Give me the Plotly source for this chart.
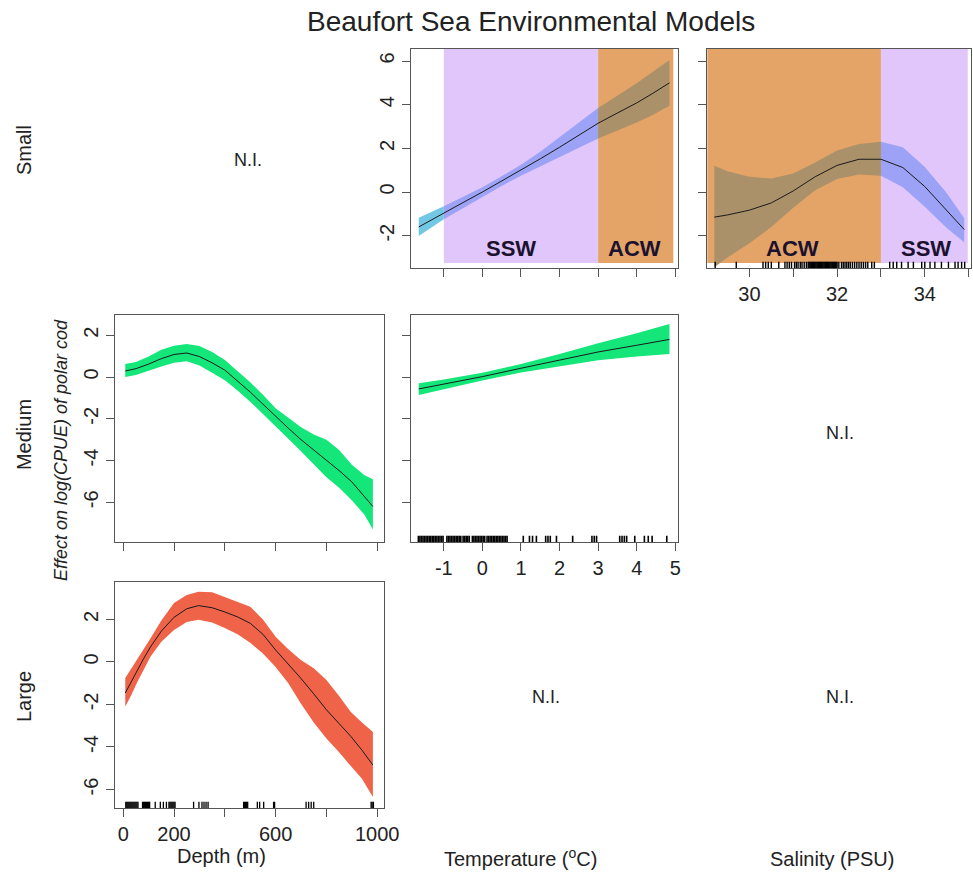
import plotly.graph_objects as go

W, H = 973, 873          # target picture size
S = 0.982                # horizontal scale observed between page and picture
FW, FH = 990, 873        # figure size in page pixels

# ---------------- data ----------------
# Small - Temperature
temp_small_x = [-1.65, -1.3, -1.0, -0.5, 0.0, 0.5, 1.0, 1.5, 2.0, 2.5, 3.0, 3.5, 4.0, 4.4, 4.85]
temp_small_fit = [-1.6, -1.25, -0.95, -0.48, 0.0, 0.5, 1.0, 1.52, 2.05, 2.6, 3.15, 3.62, 4.08, 4.5, 5.0]
temp_small_hi = [-1.18, -0.89, -0.65, -0.23, 0.22, 0.72, 1.25, 1.84, 2.5, 3.17, 3.85, 4.42, 4.98, 5.48, 6.05]
temp_small_lo = [-2.02, -1.61, -1.25, -0.73, -0.22, 0.28, 0.75, 1.2, 1.6, 2.03, 2.45, 2.82, 3.18, 3.52, 3.95]

# Small - Salinity
sal_small_x = [29.2, 29.5, 30.0, 30.5, 31.0, 31.5, 32.0, 32.5, 33.0, 33.5, 34.0, 34.5, 34.9]
sal_small_fit = [-1.15, -1.05, -0.83, -0.5, 0.05, 0.7, 1.22, 1.5, 1.5, 1.12, 0.25, -0.83, -1.72]
sal_small_hi = [1.2, 0.95, 0.7, 0.62, 0.85, 1.35, 1.9, 2.2, 2.3, 2.05, 1.15, -0.05, -1.2]
sal_small_lo = [-3.45, -3.0, -2.35, -1.6, -0.72, 0.08, 0.6, 0.8, 0.75, 0.22, -0.68, -1.65, -2.3]

# Medium - Depth
depth_med_x = [8, 50, 100, 150, 200, 250, 300, 350, 400, 450, 500, 550, 600, 650, 700, 750, 800, 850, 900, 950, 983]
depth_med_fit = [0.29, 0.4, 0.62, 0.88, 1.08, 1.15, 0.98, 0.68, 0.33, -0.18, -0.72, -1.3, -1.9, -2.45, -3.0, -3.5, -3.97, -4.48, -5.02, -5.7, -6.2]
depth_med_hi = [0.62, 0.72, 0.98, 1.3, 1.5, 1.58, 1.48, 1.2, 0.82, 0.3, -0.25, -0.85, -1.5, -1.95, -2.4, -2.75, -3.0, -3.5, -4.2, -4.7, -4.9]
depth_med_lo = [0.0, 0.1, 0.3, 0.5, 0.68, 0.75, 0.55, 0.2, -0.15, -0.65, -1.18, -1.8, -2.35, -2.95, -3.55, -4.15, -4.8, -5.3, -5.9, -6.6, -7.3]

# Medium - Temperature
temp_med_x = [-1.65, -1.0, 0.0, 1.0, 2.0, 3.0, 4.0, 4.85]
temp_med_fit = [-0.57, -0.35, 0.02, 0.42, 0.8, 1.2, 1.52, 1.8]
temp_med_hi = [-0.3, -0.12, 0.2, 0.62, 1.1, 1.62, 2.1, 2.54]
temp_med_lo = [-0.86, -0.6, -0.17, 0.22, 0.5, 0.8, 0.98, 1.1]

# Large - Depth
depth_lrg_x = [8, 30, 55, 80, 107, 150, 200, 250, 296, 350, 400, 450, 500, 550, 600, 650, 698, 750, 800, 850, 896, 940, 983]
depth_lrg_fit = [-1.46, -0.95, -0.38, 0.15, 0.7, 1.45, 2.1, 2.5, 2.65, 2.55, 2.35, 2.12, 1.82, 1.3, 0.56, -0.1, -0.75, -1.5, -2.25, -2.9, -3.5, -4.15, -4.85]
depth_lrg_hi = [-0.75, -0.35, 0.15, 0.62, 1.1, 1.95, 2.77, 3.15, 3.3, 3.28, 3.06, 2.85, 2.6, 2.0, 1.18, 0.6, 0.1, -0.3, -0.85, -1.6, -2.35, -2.85, -3.3]
depth_lrg_lo = [-2.1, -1.6, -0.95, -0.35, 0.24, 0.95, 1.5, 1.88, 1.98, 1.85, 1.6, 1.3, 0.9, 0.4, -0.24, -1.0, -1.93, -2.85, -3.6, -4.25, -4.9, -5.5, -6.35]

# rugs (observed sample positions)
depth_rug = [10, 14, 18, 22, 26, 30, 34, 38, 42, 46, 50, 54, 58, 76, 80, 84, 88, 92, 96, 100, 104,
             126, 146, 158, 170, 180, 184, 188, 192, 196, 200, 204, 277, 298, 310, 318, 326, 334,
             474, 478, 482, 486, 490, 528, 537, 553, 592, 596, 720, 730, 740, 750, 976, 980, 985]
temp_rug = [-1.66, -1.62, -1.58, -1.54, -1.50, -1.46, -1.42, -1.38, -1.34, -1.30, -1.26, -1.22, -1.18,
            -1.14, -1.10, -1.06, -1.02, -0.92, -0.88, -0.84, -0.80, -0.76, -0.72, -0.68, -0.64, -0.60,
            -0.56, -0.50, -0.46, -0.42, -0.38, -0.34, -0.26, -0.22, -0.18, -0.14, -0.10, -0.06, -0.02,
            0.02, 0.06, 0.12, 0.16, 0.20, 0.24, 0.28, 0.32, 0.36, 0.40, 0.44, 0.48, 0.52, 0.56, 0.60,
            0.64, 1.06, 1.22, 1.30, 1.40, 1.64, 1.70, 1.76, 1.92, 2.34, 2.84, 2.90, 2.96, 3.56, 3.62,
            3.68, 3.74, 3.95, 4.20, 4.30, 4.40, 4.78]
sal_rug = [29.22, 29.7, 30.31, 30.37, 30.43, 30.5, 30.67, 30.81, 30.86, 30.91, 30.96, 31.03, 31.07,
           31.11, 31.16, 31.2, 31.25, 31.3, 31.34, 31.36, 31.38, 31.4, 31.42, 31.44, 31.46, 31.48,
           31.5, 31.52, 31.54, 31.56, 31.58, 31.6, 31.62, 31.64, 31.66, 31.68, 31.7, 31.72, 31.74,
           31.76, 31.78, 31.8, 31.82, 31.84, 31.86, 31.88, 31.9, 31.92, 31.94, 31.96, 31.98, 32.0,
           32.04, 32.1, 32.14, 32.18, 32.22, 32.26, 32.3, 32.35, 32.4, 32.45, 32.5,
           32.55, 32.6, 32.65, 32.7, 32.79, 32.85, 33.2, 33.28, 33.36, 33.47, 33.62, 33.74, 33.93,
           34.0, 34.12, 34.23, 34.38, 34.54, 34.69, 34.76, 34.84, 34.91]

# water mass regions
temp_ssw = [-1.0, 3.0]
temp_acw = [3.0, 4.95]
sal_acw = [29.0, 33.0]
sal_ssw = [33.0, 34.98]
shade_bottom = -3.25

row_labels = ["Small", "Medium", "Large"]
col_labels = ["Depth (m)", "Temperature (<sup>o</sup>C)", "Salinity (PSU)"]

# ---------------- styling ----------------
FONT = "Liberation Sans, Arial, sans-serif"
PURPLE = "#E1C6FB"
ORANGE = "#E4A467"
BAND_WHITE = "#72C8E4"
BAND_PURPLE = "#9CA3F6"
BAND_ORANGE = "#AB916A"
GREEN = "#14E67A"
RED = "#EF6348"
AXC = "#555555"


def px(x):
    return (x / S) / FW


def py(y):
    return 1 - y / FH


fig = go.Figure()


def add_band(xs, lo, hi, color, xa, ya):
    fig.add_trace(go.Scatter(
        x=list(xs) + list(xs)[::-1], y=list(hi) + list(lo)[::-1],
        fill="toself", fillcolor=color, line=dict(width=0), mode="lines",
        xaxis=xa, yaxis=ya, hoverinfo="skip", showlegend=False))


def add_line(xs, ys, xa, ya):
    fig.add_trace(go.Scatter(x=xs, y=ys, mode="lines", line=dict(color="#1a1a1a", width=1),
                             xaxis=xa, yaxis=ya, hoverinfo="skip", showlegend=False))


def segment(xs, lo, hi, a, b):
    idx = [i for i, v in enumerate(xs) if a <= v <= b]
    return [xs[i] for i in idx], [lo[i] for i in idx], [hi[i] for i in idx]


# Small - Temperature (x1/y1)
for (a, b), col in [((-99, temp_ssw[0]), BAND_WHITE), ((temp_ssw[0], temp_ssw[1]), BAND_PURPLE),
                    ((temp_acw[0], 99), BAND_ORANGE)]:
    sx, sl, sh = segment(temp_small_x, temp_small_lo, temp_small_hi, a, b)
    add_band(sx, sl, sh, col, "x", "y")
add_line(temp_small_x, temp_small_fit, "x", "y")

# Small - Salinity (x2/y2)
for (a, b), col in [((0, sal_acw[1]), BAND_ORANGE), ((sal_ssw[0], 99), BAND_PURPLE)]:
    sx, sl, sh = segment(sal_small_x, sal_small_lo, sal_small_hi, a, b)
    add_band(sx, sl, sh, col, "x2", "y2")
add_line(sal_small_x, sal_small_fit, "x2", "y2")

# Medium - Depth (x3/y3)
add_band(depth_med_x, depth_med_lo, depth_med_hi, GREEN, "x3", "y3")
add_line(depth_med_x, depth_med_fit, "x3", "y3")

# Medium - Temperature (x4/y4)
add_band(temp_med_x, temp_med_lo, temp_med_hi, GREEN, "x4", "y4")
add_line(temp_med_x, temp_med_fit, "x4", "y4")

# Large - Depth (x5/y5)
add_band(depth_lrg_x, depth_lrg_lo, depth_lrg_hi, RED, "x5", "y5")
add_line(depth_lrg_x, depth_lrg_fit, "x5", "y5")

# ---------------- axes ----------------
colx = {1: [px(115), px(383)], 2: [px(410), px(677)], 3: [px(706), px(969)]}
rowy = {1: [py(268), py(49)], 2: [py(542), py(315)], 3: [py(808), py(582)]}

range_temp = [-1.857, 5.078]
range_sal = [29.04, 35.05]
range_depth = [-31.6, 1025.6]
range_r1 = [-3.48, 6.55]
range_r2 = [-7.9, 2.97]
range_r3 = [-6.87, 3.76]

tickfont = dict(family=FONT, size=20, color="#222222")


def axis(domain, rng, tickvals, ticktext=None, show_labels=True, anchor=None, is_y=False):
    d = dict(domain=domain, range=rng, showgrid=False, zeroline=False, showline=True,
             linecolor=AXC, linewidth=1, mirror=True, ticks="outside", ticklen=8,
             tickcolor=AXC, tickwidth=1, tickvals=tickvals, showticklabels=show_labels,
             tickfont=tickfont, anchor=anchor, fixedrange=True)
    if ticktext is None:
        ticktext = [str(v) for v in tickvals]
    d["ticktext"] = ticktext
    if is_y:
        d["tickangle"] = -90
    return d


temp_ticks = [-1, 0, 1, 2, 3, 4, 5]
sal_ticks = [30, 31, 32, 33, 34, 35]
sal_text = ["30", " ", "32", " ", "34", " "]
depth_ticks = [0, 200, 400, 600, 800, 1000]
depth_text = ["0", "200", " ", "600", " ", "1000"]
y_ticks_r1 = [-2, 0, 2, 4, 6]
y_ticks_r23 = [-6, -4, -2, 0, 2]

fig.update_layout(
    xaxis=axis(colx[2], range_temp, temp_ticks, show_labels=False, anchor="y"),
    yaxis=axis(rowy[1], range_r1, y_ticks_r1, anchor="x", is_y=True),
    xaxis2=axis(colx[3], range_sal, sal_ticks, sal_text, anchor="y2"),
    yaxis2=axis(rowy[1], range_r1, y_ticks_r1, show_labels=False, anchor="x2", is_y=True),
    xaxis3=axis(colx[1], range_depth, depth_ticks, show_labels=False, anchor="y3"),
    yaxis3=axis(rowy[2], range_r2, y_ticks_r23, anchor="x3", is_y=True),
    xaxis4=axis(colx[2], range_temp, temp_ticks, anchor="y4"),
    yaxis4=axis(rowy[2], range_r2, y_ticks_r23, show_labels=False, anchor="x4", is_y=True),
    xaxis5=axis(colx[1], range_depth, depth_ticks, depth_text, anchor="y5"),
    yaxis5=axis(rowy[3], range_r3, y_ticks_r23, anchor="x5", is_y=True),
)

# ---------------- shapes ----------------
shapes = []
for rng, col in [(temp_ssw, PURPLE), (temp_acw, ORANGE)]:
    shapes.append(dict(type="rect", xref="x", yref="y", x0=rng[0], x1=rng[1],
                       y0=shade_bottom, y1=range_r1[1], fillcolor=col, line=dict(width=0),
                       layer="below"))
for rng, col in [(sal_acw, ORANGE), (sal_ssw, PURPLE)]:
    shapes.append(dict(type="rect", xref="x2", yref="y2", x0=rng[0], x1=rng[1],
                       y0=shade_bottom, y1=range_r1[1], fillcolor=col, line=dict(width=0),
                       layer="below"))


def rug(vals, xa, ya, width):
    for v in vals:
        shapes.append(dict(type="line", xref=xa, yref=ya + " domain", x0=v, x1=v, y0=0, y1=0.028,
                           line=dict(color="black", width=width)))


rug(depth_rug, "x5", "y5", 1.3)
rug(temp_rug, "x4", "y4", 1.6)
rug(sal_rug, "x2", "y2", 1.4)
fig.update_layout(shapes=shapes)

# ---------------- annotations ----------------
ann = []


def text(x, y, t, size=20, angle=0, **kw):
    ann.append(dict(x=x, y=y, xref="paper", yref="paper", text=t, showarrow=False,
                    textangle=angle, font=dict(family=FONT, size=size, color="#222222"),
                    xanchor="center", yanchor="middle", **kw))


text(px(530), py(21), "Beaufort Sea Environmental Models", size=28)
text(px(24), py(150), row_labels[0], angle=-90)
text(px(24), py(435), row_labels[1], angle=-90)
text(px(24), py(697), row_labels[2], angle=-90)
text(px(61), py(450), "<i>Effect on log(CPUE) of polar cod</i>", size=18, angle=-90)
text(px(221), py(856), col_labels[0])
text(px(520), py(857), col_labels[1])
text(px(830), py(859), col_labels[2])
for (x, y) in [(248, 160), (545, 697), (838, 433), (838, 697)]:
    text(px(x), py(y), "N.I.", size=18)

# region labels (data coords)
for (xa, ya, xv, lab) in [("x", "y", 0.75, "SSW"), ("x", "y", 3.95, "ACW"),
                          ("x2", "y2", 30.98, "ACW"), ("x2", "y2", 34.02, "SSW")]:
    ann.append(dict(x=xv, y=-2.57, xref=xa, yref=ya, text="<b>" + lab + "</b>", showarrow=False,
                    font=dict(family=FONT, size=22, color="#1b1230"),
                    xanchor="center", yanchor="middle"))

fig.update_layout(annotations=ann, width=FW, height=FH, margin=dict(l=0, r=0, t=0, b=0),
                  paper_bgcolor="white", plot_bgcolor="rgba(0,0,0,0)", showlegend=False,
                  font=dict(family=FONT))

fig.write_html("out.html", config={"responsive": False, "displayModeBar": False},
               post_script="document.body.style.margin='0px';document.body.style.overflow='hidden';")
